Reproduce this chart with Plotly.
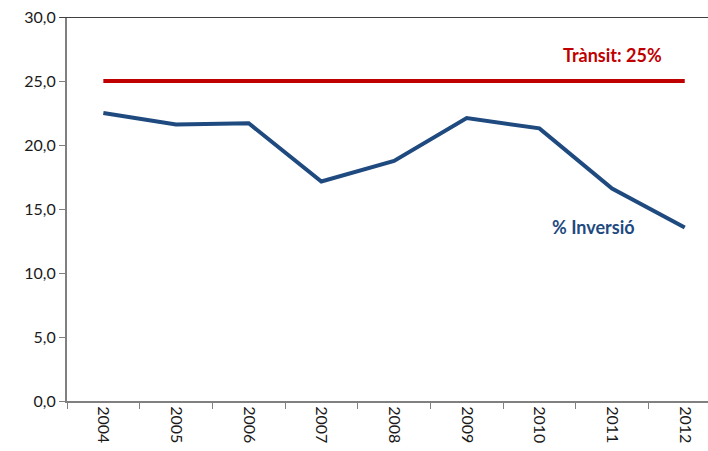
import plotly.graph_objects as go

years = ["2004", "2005", "2006", "2007", "2008", "2009", "2010", "2011", "2012"]
inversio = [22.5, 21.6, 21.7, 17.15, 18.75, 22.1, 21.3, 16.6, 13.55]
transit = [25, 25, 25, 25, 25, 25, 25, 25, 25]
y_ticks = [0, 5, 10, 15, 20, 25, 30]

fig = go.Figure()
fig.add_trace(go.Scatter(x=years, y=transit, mode="lines",
                         line=dict(color="#C00000", width=4), hoverinfo="skip"))
fig.add_trace(go.Scatter(x=years, y=inversio, mode="lines",
                         line=dict(color="#1F4A7F", width=4), hoverinfo="skip"))

fig.add_annotation(x=7, y=27.0, xref="x", yref="y", text="<b>Trànsit: 25%</b>",
                   showarrow=False, font=dict(family="Lato", size=18, color="#C00000"))
fig.add_annotation(x=6.74, y=13.6, xref="x", yref="y", text="<b>% Inversió</b>",
                   showarrow=False, font=dict(family="Lato", size=18, color="#1F4A7F"))

fig.add_shape(type="line", xref="paper", yref="y", x0=-0.012, x1=1, y0=30, y1=30,
              line=dict(color="#404040", width=2))

fig.update_layout(
    width=708, height=451,
    margin=dict(l=67, r=0, t=17, b=50, autoexpand=False),
    paper_bgcolor="white", plot_bgcolor="white",
    showlegend=False,
    separators=",.",
    font=dict(family="Lato", size=16, color="#1a1a1a"),
    xaxis=dict(type="category", range=[-0.5, 8.32], tickson="boundaries",
               ticks="outside", ticklen=6, tickcolor="#808080", tickangle=90,
               showline=True, linecolor="#808080", linewidth=2, showgrid=False,
               zeroline=False, automargin=False, tickfont=dict(size=16)),
    yaxis=dict(range=[0, 30], tickvals=y_ticks, tickformat=".1f",
               ticks="outside", ticklen=6, tickcolor="#808080",
               showline=True, linecolor="#808080", linewidth=2, showgrid=False,
               zeroline=False, automargin=False, tickfont=dict(size=16)),
)

fig.write_html("out.html", config={"displayModeBar": False},
               post_script="document.body.style.margin='0';document.body.style.overflow='hidden';")
